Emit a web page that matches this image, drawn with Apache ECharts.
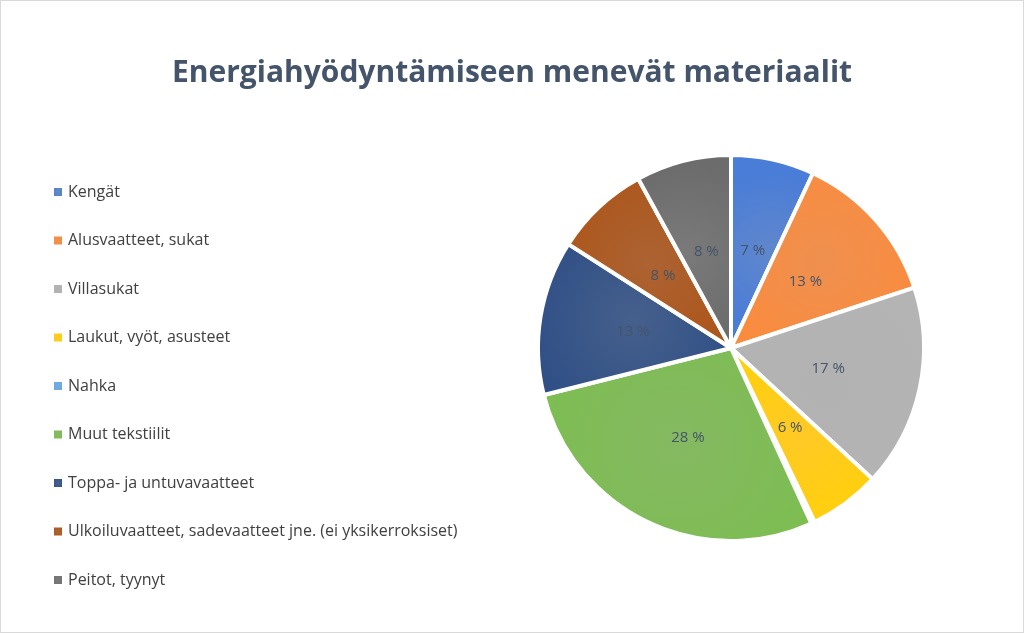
<!DOCTYPE html>
<html><head><meta charset="utf-8">
<script src="https://cdn.jsdelivr.net/npm/echarts@6/dist/echarts.min.js"></script>
<style>html,body{margin:0;padding:0;background:#fff}#c{width:1024px;height:633px;box-sizing:border-box;border:1px solid #d9d9d9}</style>
</head><body><div id="c"></div>
<script>
const categories = ["Kengät","Alusvaatteet, sukat","Villasukat","Laukut, vyöt, asusteet","Nahka","Muut tekstiilit","Toppa- ja untuvavaatteet","Ulkoiluvaatteet, sadevaatteet jne. (ei yksikerroksiset)","Peitot, tyynyt"];
const values = [7,13,17,6,0.3,28,13,8,8];
const colors = ["#4472C4","#ED7D31","#A5A5A5","#FFC000","#5B9BD5","#70AD47","#264478","#9E480E","#636363"];
function grad(c){return new echarts.graphic.RadialGradient(0.5,0.5,0.9,[{offset:0,color:echarts.color.lift(c,0.15)},{offset:1,color:echarts.color.lift(c,-0.1)}]);}
const chart = echarts.init(document.getElementById('c'));
chart.setOption({
  title:{text:'Energiahyödyntämiseen menevät materiaalit',left:'center',top:52,textStyle:{fontFamily:'Open Sans',fontSize:30,fontWeight:'bold',color:'#44546A'}},
  legend:{orient:'vertical',left:46,top:178,itemGap:32.5,itemWidth:10,itemHeight:10,icon:'rect',
    textStyle:{fontFamily:'Open Sans',fontSize:16,color:'#404040'},data:categories},
  series:[{type:'pie',center:[730,347],radius:[0,193],startAngle:90,clockwise:true,
    itemStyle:{borderColor:'#fff',borderWidth:4},
    label:{position:'inside',formatter:p=>String(p.value).replace('.',',')+' %',fontFamily:'Open Sans',fontSize:15,color:'#44546A'},
    labelLine:{show:false},
    data:categories.map((n,i)=>({name:n,value:values[i],itemStyle:{color:grad(colors[i])}}))
  }]
});
</script></body></html>
